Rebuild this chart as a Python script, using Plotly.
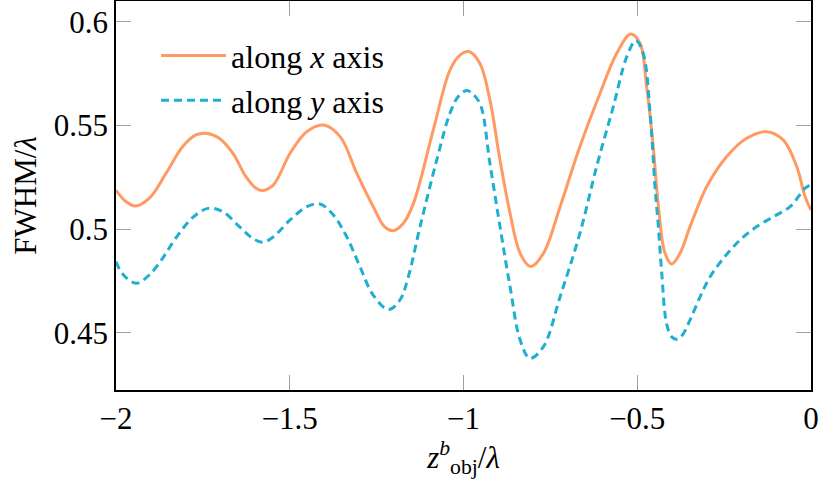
import plotly.graph_objects as go

# along x axis (solid orange)
x_along_x = [-2.000, -1.971, -1.944, -1.904, -1.856, -1.808, -1.770, -1.741, -1.703, -1.664,
             -1.626, -1.597, -1.578, -1.547, -1.499, -1.451, -1.403, -1.355, -1.307, -1.260,
             -1.226, -1.202, -1.173, -1.144, -1.087, -1.039, -1.010, -0.985, -0.953, -0.924,
             -0.895, -0.866, -0.837, -0.807, -0.770, -0.722, -0.665, -0.607, -0.559, -0.519,
             -0.492, -0.473, -0.454, -0.439, -0.420, -0.401, -0.377, -0.348, -0.300, -0.243,
             -0.185, -0.128, -0.080, -0.041, -0.017, 0.000]
y_along_x = [0.5188, 0.5133, 0.5112, 0.5150, 0.5270, 0.5399, 0.5455, 0.5463, 0.5439, 0.5367,
             0.5254, 0.5198, 0.5187, 0.5214, 0.5367, 0.5471, 0.5503, 0.5447, 0.5270, 0.5110,
             0.5010, 0.4993, 0.5029, 0.5125, 0.5479, 0.5768, 0.5840, 0.5857, 0.5801, 0.5624,
             0.5334, 0.5077, 0.4884, 0.4820, 0.4884, 0.5109, 0.5399, 0.5656, 0.5849, 0.5942,
             0.5897, 0.5688, 0.5399, 0.5109, 0.4884, 0.4833, 0.4884, 0.5013, 0.5206, 0.5350,
             0.5439, 0.5471, 0.5431, 0.5302, 0.5157, 0.5093]

# along y axis (dashed blue)
x_along_y = [-2.000, -1.981, -1.942, -1.904, -1.866, -1.827, -1.779, -1.736, -1.693, -1.645,
             -1.607, -1.578, -1.547, -1.499, -1.451, -1.413, -1.375, -1.336, -1.298, -1.260,
             -1.216, -1.183, -1.159, -1.125, -1.077, -1.039, -1.015, -0.991, -0.970, -0.950,
             -0.924, -0.895, -0.866, -0.837, -0.809, -0.770, -0.722, -0.665, -0.617, -0.569,
             -0.530, -0.504, -0.483, -0.463, -0.449, -0.440, -0.430, -0.415, -0.400, -0.385,
             -0.370, -0.348, -0.319, -0.290, -0.252, -0.204, -0.156, -0.108, -0.060, -0.017,
             0.000]
y_along_y = [0.4844, 0.4785, 0.4740, 0.4780, 0.4860, 0.4960, 0.5057, 0.5101, 0.5085, 0.5013,
             0.4957, 0.4937, 0.4964, 0.5045, 0.5109, 0.5122, 0.5070, 0.4964, 0.4820, 0.4683,
             0.4613, 0.4659, 0.4770, 0.5013, 0.5334, 0.5560, 0.5640, 0.5669, 0.5648, 0.5595,
             0.5318, 0.5013, 0.4723, 0.4466, 0.4378, 0.4434, 0.4675, 0.4981, 0.5302, 0.5591,
             0.5833, 0.5910, 0.5849, 0.5560, 0.5206, 0.5030, 0.4800, 0.4540, 0.4480, 0.4470,
             0.4490, 0.4563, 0.4675, 0.4772, 0.4860, 0.4949, 0.5013, 0.5061, 0.5109, 0.5198,
             0.5215]

x_ticks = [-2, -1.5, -1, -0.5, 0]
x_tick_labels = ["\u22122", "\u22121.5", "\u22121", "\u22120.5", "0"]
y_ticks = [0.45, 0.5, 0.55, 0.6]
y_tick_labels = ["0.45", "0.5", "0.55", "0.6"]

ORANGE = "#FF9A62"
BLUE = "#1FAFCF"
FONT = "'Liberation Serif', 'Times New Roman', serif"

fig = go.Figure()
fig.add_trace(go.Scatter(
    x=x_along_x, y=y_along_x, mode="lines", name="along <i>x</i> axis",
    line=dict(color=ORANGE, width=3, shape="spline", smoothing=1.0),
    legendgroup="a"))
fig.add_trace(go.Scatter(
    x=x_along_y, y=y_along_y, mode="lines", name="along <i>y</i> axis",
    line=dict(color=BLUE, width=3, dash="8px,5px", shape="spline", smoothing=1.0),
    legendgroup="b"))

axis_common = dict(
    showline=True, linecolor="black", linewidth=1.5, mirror="ticks",
    ticks="inside", ticklen=15, tickwidth=1.3, tickcolor="#a0a0a0",
    showgrid=False, zeroline=False, automargin=False,
    tickfont=dict(family=FONT, size=31, color="black"),
)

fig.update_layout(
    width=831, height=482,
    margin=dict(l=116, r=20, t=1, b=92),
    paper_bgcolor="white", plot_bgcolor="white",
    font=dict(family=FONT, size=31, color="black"),
    showlegend=True,
    legend=dict(
        x=0.0576, y=0.93, xanchor="left", yanchor="top",
        bgcolor="rgba(0,0,0,0)", borderwidth=0,
        font=dict(family=FONT, size=32, color="black"),
        itemwidth=65, tracegroupgap=0, traceorder="grouped",
    ),
    xaxis=dict(
        range=[-2, 0], tickvals=x_ticks, ticktext=x_tick_labels,
        title=dict(text="<i>z</i><sup><i>b</i></sup><sub>obj</sub>/<i>λ</i>",
                   font=dict(family=FONT, size=31), standoff=0),
        **axis_common),
    yaxis=dict(
        range=[0.4225, 0.6101], tickvals=y_ticks, ticktext=y_tick_labels,
        title=dict(text="FWHM/<i>λ</i>", font=dict(family=FONT, size=31), standoff=8),
        **axis_common),
)

fig.write_html("out.html", config={"displayModeBar": False},
               post_script="document.body.style.margin='0';document.body.style.padding='0';")
